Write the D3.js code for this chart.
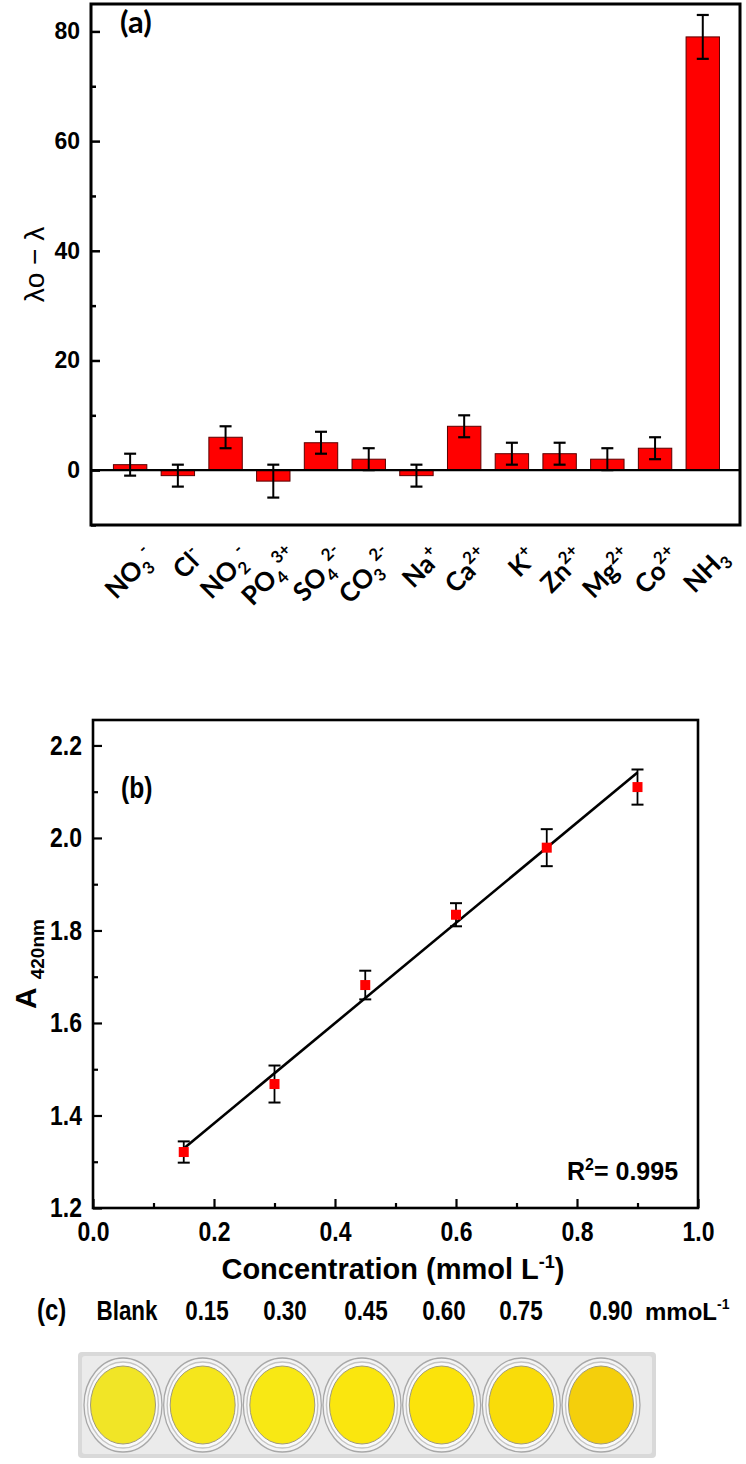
<!DOCTYPE html>
<html><head><meta charset="utf-8">
<script src="https://cdn.jsdelivr.net/npm/d3@7"></script>
<style>
html,body{margin:0;padding:0;background:#fff;}
svg{display:block;}
</style></head>
<body>
<svg id="chart" width="746" height="1464"></svg>
<script>
// ---------- Panel (a) data ----------
const ions = ["NO3-","Cl-","NO2-","PO43+","SO42-","CO32-","Na+","Ca2+","K+","Zn2+","Mg2+","Co2+","NH3"];
const ionLabels = [
  [["NO",""],["3","sub"],["-","sup"]],
  [["Cl",""],["-","sup2"]],
  [["NO",""],["2","sub"],["-","sup"]],
  [["PO",""],["4","sub"],["3+","sup"]],
  [["SO",""],["4","sub"],["2-","sup"]],
  [["CO",""],["3","sub"],["2-","sup"]],
  [["Na",""],["+","sup2"]],
  [["Ca",""],["2+","sup2"]],
  [["K",""],["+","sup2"]],
  [["Zn",""],["2+","sup2"]],
  [["Mg",""],["2+","sup2"]],
  [["Co",""],["2+","sup2"]],
  [["NH",""],["3","sub"]]
];
const shiftValues = [1, -1, 6, -2, 5, 2, -1, 8, 3, 3, 2, 4, 79];
const shiftErrors = [2, 2, 2, 3, 2, 2, 2, 2, 2, 2, 2, 2, 4];
const aTicks = [0, 20, 40, 60, 80];
const aMinor = [-10, 10, 30, 50, 70];

// ---------- Panel (b) data ----------
const conc = [0.15, 0.30, 0.45, 0.60, 0.75, 0.90];
const absorb = [1.321, 1.468, 1.682, 1.834, 1.979, 2.110];
const absErr = [0.023, 0.040, 0.031, 0.025, 0.040, 0.038];
const fitSlope = 1.084, fitIntercept = 1.166;
const bXTicks = [0, 0.2, 0.4, 0.6, 0.8, 1.0];
const bYTicks = [1.2, 1.4, 1.6, 1.8, 2.0, 2.2];

// ---------- Panel (c) data ----------
const wellLabels = ["Blank","0.15","0.30","0.45","0.60","0.75","0.90"];
const wellColors = ["#f1e526","#f5e61c","#f8e814","#fae60e","#fbe30b","#f9dc0a","#f4cf0c"];

const svg = d3.select("#chart");
const ARIAL = "Liberation Sans, Arial, sans-serif";
const CALIBRI = "Lato, 'Open Sans', sans-serif";

function condense(sel, k){
  sel.each(function(){
    const w = this.getComputedTextLength();
    d3.select(this).attr("textLength", w*k).attr("lengthAdjust","spacingAndGlyphs");
  });
}

// ================= Panel (a) =================
const A = {l:91, r:740, t:4, b:525};
const xa = d3.scaleLinear().domain([0.18, 13.78]).range([A.l, A.r]);
const ya = d3.scaleLinear().domain([-10, 85]).range([A.b, A.t]);
const ga = svg.append("g");
const barW = xa(1.35) - xa(0.65);

ga.selectAll("rect.bar").data(shiftValues).join("rect")
  .attr("class","bar")
  .attr("x",(d,i)=>xa(i+1)-barW/2)
  .attr("width",barW)
  .attr("y",d=>ya(Math.max(0,d)))
  .attr("height",d=>Math.abs(ya(d)-ya(0)))
  .attr("fill","#ff0000").attr("stroke","#5a0000").attr("stroke-width",1);

const eb = ga.selectAll("g.eb").data(shiftValues).join("g").attr("class","eb");
eb.append("line").attr("x1",(d,i)=>xa(i+1)).attr("x2",(d,i)=>xa(i+1))
  .attr("y1",(d,i)=>ya(d+shiftErrors[i])).attr("y2",(d,i)=>ya(d-shiftErrors[i]))
  .attr("stroke","#000").attr("stroke-width",2);
[1,-1].forEach(s=>{
  eb.append("line").attr("x1",(d,i)=>xa(i+1)-6).attr("x2",(d,i)=>xa(i+1)+6)
    .attr("y1",(d,i)=>ya(d+s*shiftErrors[i])).attr("y2",(d,i)=>ya(d+s*shiftErrors[i]))
    .attr("stroke","#000").attr("stroke-width",2.2);
});
ga.append("line").attr("x1",A.l).attr("x2",A.r).attr("y1",ya(0)).attr("y2",ya(0))
  .attr("stroke","#000").attr("stroke-width",2.2);

const gya = ga.append("g").attr("transform",`translate(${A.l},0)`)
  .call(d3.axisLeft(ya).tickValues(aTicks).tickSize(-9).tickPadding(11).tickFormat(d3.format("d")));
gya.select(".domain").remove();
gya.selectAll(".tick line").attr("stroke","#000").attr("stroke-width",2.5);
gya.selectAll(".tick text").attr("font-family",ARIAL)
  .attr("font-weight","bold").attr("font-size",23).attr("fill","#000");
const gyam = ga.append("g").attr("transform",`translate(${A.l},0)`)
  .call(d3.axisLeft(ya).tickValues(aMinor).tickSize(-5).tickFormat(""));
gyam.select(".domain").remove();
gyam.selectAll(".tick line").attr("stroke","#000").attr("stroke-width",2.5);

ga.append("rect").attr("x",A.l).attr("y",A.t).attr("width",A.r-A.l).attr("height",A.b-A.t)
  .attr("fill","none").attr("stroke","#000").attr("stroke-width",3);

const labG = ga.selectAll("text.cat").data(ionLabels).join("text").attr("class","cat")
  .attr("transform",(d,i)=>`translate(${xa(i+1)+27},${A.b+34}) rotate(-45)`)
  .attr("text-anchor","end")
  .attr("font-family",CALIBRI).attr("font-weight","bold")
  .attr("font-size",26).attr("fill","#000");
labG.each(function(parts){
  const t = d3.select(this);
  parts.forEach(([s,k])=>{
    const ts = t.append("tspan").text(s);
    if(k==="sub"){ ts.attr("font-size",17).attr("dy",6); }
    else if(k==="sup"){ ts.attr("font-size",17).attr("dy",-18).attr("dx",1); }
    else if(k==="sup2"){ ts.attr("font-size",17).attr("dy",-11); }
  });
});

ga.append("text").attr("transform",`translate(44,${(A.t+A.b)/2}) rotate(-90)`)
  .attr("text-anchor","middle").attr("font-family",ARIAL)
  .attr("font-size",28).attr("fill","#000").text("λo − λ");
ga.append("text").attr("x",120).attr("y",33).attr("font-family",CALIBRI)
  .attr("font-weight","bold").attr("font-size",31).attr("fill","#000").text("(a)");

// ================= Panel (b) =================
const B = {l:93, r:698, t:720, b:1208};
const xb = d3.scaleLinear().domain([0,1]).range([B.l,B.r]);
const yb = d3.scaleLinear().domain([1.2,2.255]).range([B.b,B.t]);
const gb = svg.append("g");

const xAxB = gb.append("g").attr("transform",`translate(0,${B.b})`)
  .call(d3.axisBottom(xb).tickValues(bXTicks).tickSize(-9).tickPadding(13).tickFormat(d3.format(".1f")));
const yAxB = gb.append("g").attr("transform",`translate(${B.l},0)`)
  .call(d3.axisLeft(yb).tickValues(bYTicks).tickSize(-9).tickPadding(11).tickFormat(d3.format(".1f")));
[xAxB,yAxB].forEach(g=>{
  g.select(".domain").remove();
  g.selectAll(".tick line").attr("stroke","#000").attr("stroke-width",2.2);
  g.selectAll(".tick text").attr("font-family",ARIAL).attr("font-weight","bold")
    .attr("font-size",28).attr("fill","#000");
  condense(g.selectAll(".tick text"), 0.82);
});
const xMinB = gb.append("g").attr("transform",`translate(0,${B.b})`)
  .call(d3.axisBottom(xb).tickValues([0.1,0.3,0.5,0.7,0.9]).tickSize(-5).tickFormat(""));
const yMinB = gb.append("g").attr("transform",`translate(${B.l},0)`)
  .call(d3.axisLeft(yb).tickValues([1.3,1.5,1.7,1.9,2.1]).tickSize(-5).tickFormat(""));
[xMinB,yMinB].forEach(g=>{ g.select(".domain").remove(); g.selectAll(".tick line").attr("stroke","#000").attr("stroke-width",2.2); });

gb.append("rect").attr("x",B.l).attr("y",B.t).attr("width",B.r-B.l).attr("height",B.b-B.t)
  .attr("fill","none").attr("stroke","#000").attr("stroke-width",2.6);

const fitX = [conc[0], conc[conc.length-1]];
gb.append("path").datum(fitX)
  .attr("d", d3.line().x(d=>xb(d)).y(d=>yb(fitIntercept+fitSlope*d)))
  .attr("stroke","#000").attr("stroke-width",2.6).attr("fill","none");

const ebb = gb.selectAll("g.ebb").data(conc).join("g").attr("class","ebb");
ebb.append("line").attr("x1",d=>xb(d)).attr("x2",d=>xb(d))
  .attr("y1",(d,i)=>yb(absorb[i]+absErr[i])).attr("y2",(d,i)=>yb(absorb[i]-absErr[i]))
  .attr("stroke","#000").attr("stroke-width",1.8);
[1,-1].forEach(s=>{
  ebb.append("line").attr("x1",d=>xb(d)-6).attr("x2",d=>xb(d)+6)
    .attr("y1",(d,i)=>yb(absorb[i]+s*absErr[i])).attr("y2",(d,i)=>yb(absorb[i]+s*absErr[i]))
    .attr("stroke","#000").attr("stroke-width",2);
});
gb.selectAll("rect.pt").data(conc).join("rect").attr("class","pt")
  .attr("x",d=>xb(d)-5).attr("y",(d,i)=>yb(absorb[i])-5)
  .attr("width",10).attr("height",10).attr("fill","#ff0000");

const bl = gb.append("text").attr("x",121).attr("y",798).attr("font-family",ARIAL).attr("font-weight","bold")
  .attr("font-size",30).attr("fill","#000").text("(b)");
condense(bl, 0.82);
const r2 = gb.append("text").attr("x",567).attr("y",1180).attr("font-family",ARIAL).attr("font-weight","bold")
  .attr("font-size",25).attr("fill","#000");
r2.append("tspan").text("R");
r2.append("tspan").text("2").attr("font-size",16).attr("dy",-10);
r2.append("tspan").text("= 0.995").attr("dy",10);

const xt = gb.append("text").attr("x",393).attr("y",1279).attr("text-anchor","middle")
  .attr("font-family",ARIAL).attr("font-weight","bold").attr("font-size",29).attr("fill","#000");
xt.append("tspan").text("Concentration (mmol L");
xt.append("tspan").text("-1").attr("font-size",18).attr("dy",-11);
xt.append("tspan").text(")").attr("dy",11);

const yt = gb.append("text").attr("transform",`translate(36,${(B.t+B.b)/2}) rotate(-90)`).attr("text-anchor","middle")
  .attr("font-family",ARIAL).attr("font-weight","bold").attr("fill","#000");
yt.append("tspan").text("A").attr("font-size",30);
yt.append("tspan").text("420nm").attr("font-size",19).attr("dy",8).attr("dx",8);

// ================= Panel (c) =================
const gc = svg.append("g");
const xc = d3.scalePoint().domain(wellLabels).range([123, 601]);
const cl = gc.append("text").attr("x",37).attr("y",1320).attr("font-family",ARIAL).attr("font-weight","bold")
  .attr("font-size",30).attr("fill","#000").text("(c)");
condense(cl, 0.8);
const labelX = [127, 207, 285, 366, 444, 521, 611];
const wl = gc.selectAll("text.wl").data(wellLabels).join("text").attr("class","wl")
  .attr("x",(d,i)=>labelX[i]).attr("y",1320).attr("text-anchor","middle")
  .attr("font-family",ARIAL).attr("font-weight","bold")
  .attr("font-size",27).attr("fill","#000").text(d=>d);
condense(wl, 0.83);
const unit = gc.append("text").attr("x",645).attr("y",1320).attr("font-family",ARIAL).attr("font-weight","bold")
  .attr("font-size",24).attr("fill","#000");
unit.append("tspan").text("mmoL");
unit.append("tspan").text("-1").attr("font-size",14).attr("dy",-11);

// tray
gc.append("rect").attr("x",78).attr("y",1352).attr("width",578).attr("height",106).attr("rx",4)
  .attr("fill","#d9d9d9");
gc.append("rect").attr("x",82).attr("y",1356).attr("width",570).attr("height",98).attr("rx",3)
  .attr("fill","#ebebeb");
const cy = 1405;
const wells = gc.selectAll("g.well").data(wellLabels).join("g").attr("class","well")
  .attr("transform",d=>`translate(${xc(d)},${cy})`);
wells.append("ellipse").attr("rx",39).attr("ry",47).attr("fill","#f4f4f4").attr("stroke","#a8a8a8").attr("stroke-width",1.3);
wells.append("ellipse").attr("rx",35.5).attr("ry",43).attr("fill","#fafafa").attr("stroke","#c4c4c4").attr("stroke-width",1.4);
wells.append("ellipse").attr("rx",32.5).attr("ry",39).attr("fill",(d,i)=>wellColors[i]).attr("stroke","#a09a78").attr("stroke-width",1);
</script>
</body></html>
